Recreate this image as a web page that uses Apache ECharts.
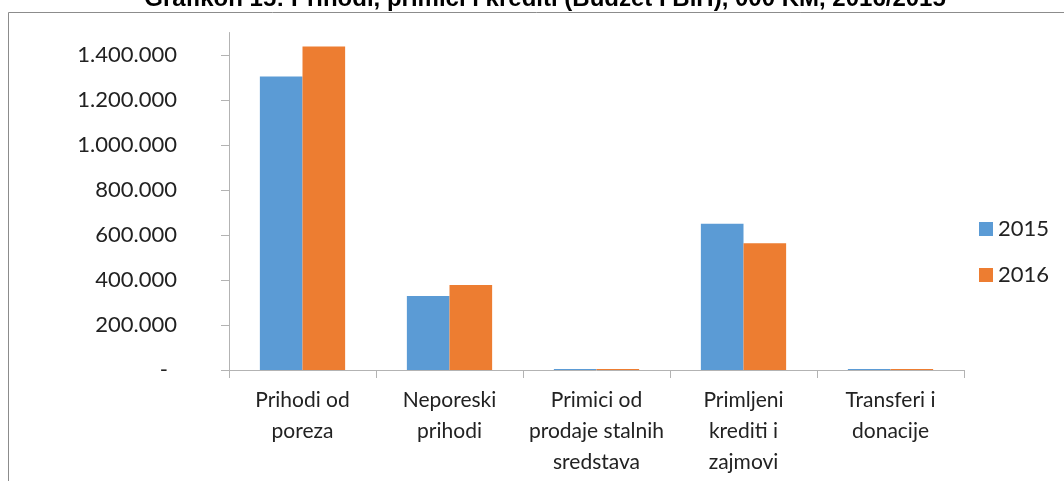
<!DOCTYPE html>
<html>
<head>
<meta charset="utf-8">
<script src="https://cdn.jsdelivr.net/npm/echarts@6/dist/echarts.min.js"></script>
<style>
html,body{margin:0;padding:0;background:#fff;}
#c{width:1064px;height:481px;}
</style>
</head>
<body>
<div id="c"></div>
<script>
const titleText = 'Grafikon 15: Prihodi, primici i krediti (Budžet I BiH), 000 KM, 2016/2015';
const categories = ['Prihodi od\nporeza', 'Neporeski\nprihodi', 'Primici od\nprodaje stalnih\nsredstava', 'Primljeni\nkrediti i\nzajmovi', 'Transferi i\ndonacije'];
const seriesNames = ['2015', '2016'];
const values2015 = [1304000, 329000, 4000, 650000, 4000];
const values2016 = [1438000, 378000, 4000, 563000, 4000];
const yTicks = [0, 200000, 400000, 600000, 800000, 1000000, 1200000, 1400000];

function fmt(v) {
  if (v === 0) return '{z|-}';
  return String(v).replace(/\B(?=(\d{3})+(?!\d))/g, '.');
}

const chart = echarts.init(document.getElementById('c'), null, {renderer: 'canvas'});
chart.setOption({
  animation: false,
  backgroundColor: '#ffffff',
  graphic: [
    {
      type: 'rect',
      shape: {x: 8.5, y: 12.5, width: 1100, height: 520},
      style: {fill: 'none', stroke: '#8c8c8c', lineWidth: 1},
      silent: true
    },
    {
      type: 'text',
      x: 545,
      y: 11,
      style: {
        text: titleText,
        align: 'center',
        verticalAlign: 'bottom',
        font: 'bold 24px "Liberation Sans", Arial, sans-serif',
        fill: '#000'
      },
      silent: true
    }
  ],
  grid: {left: 229, right: 100, top: 32.5, bottom: 111, containLabel: false},
  legend: {
    orient: 'vertical',
    left: 974,
    top: 213,
    icon: 'rect',
    itemWidth: 14,
    itemHeight: 14,
    itemGap: 24,
    data: seriesNames,
    textStyle: {fontFamily: 'Lato', fontSize: 22, color: '#222222'}
  },
  xAxis: {
    type: 'category',
    data: categories,
    axisLine: {lineStyle: {color: '#b3b3b3', width: 1}},
    axisTick: {show: true, length: 8, lineStyle: {color: '#b3b3b3'}},
    axisLabel: {
      interval: 0,
      margin: 15,
      fontFamily: 'Lato',
      fontSize: 21,
      lineHeight: 31,
      color: '#222222'
    },
    splitLine: {show: false}
  },
  yAxis: {
    type: 'value',
    min: 0,
    max: 1500000,
    interval: 100000,
    axisLine: {show: true, lineStyle: {color: '#b3b3b3', width: 1}},
    axisTick: {show: true, length: 8, inside: false, customValues: yTicks, lineStyle: {color: '#b3b3b3'}},
    axisLabel: {
      customValues: yTicks,
      margin: 52,
      fontFamily: 'Lato',
      fontSize: 22,
      color: '#222222',
      formatter: fmt,
      rich: {z: {fontFamily: 'Lato', fontSize: 22, color: '#222222', padding: [0, 9, 0, 0]}}
    },
    splitLine: {show: false}
  },
  series: [
    {
      name: seriesNames[0],
      type: 'bar',
      data: values2015,
      barGap: '0%',
      barCategoryGap: '42%',
      itemStyle: {color: '#5B9BD5'}
    },
    {
      name: seriesNames[1],
      type: 'bar',
      data: values2016,
      barGap: '0%',
      barCategoryGap: '42%',
      itemStyle: {color: '#ED7D31'}
    }
  ]
});
</script>
</body>
</html>
